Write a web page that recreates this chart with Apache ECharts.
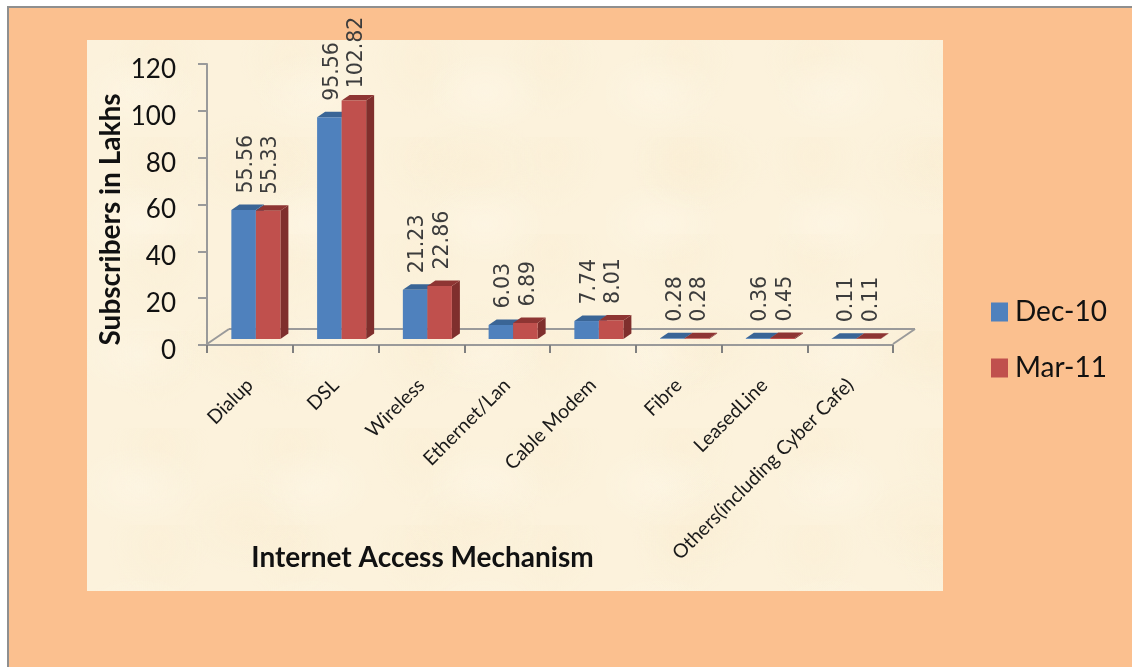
<!DOCTYPE html>
<html>
<head>
<meta charset="utf-8">
<script src="https://cdn.jsdelivr.net/npm/echarts@6/dist/echarts.min.js"></script>
<style>
html,body{margin:0;padding:0;width:1132px;height:667px;overflow:hidden;background:#fff}
#frame{position:absolute;left:7px;top:6px;width:1125px;height:661px;box-sizing:border-box;background:#FBC08F;border-top:2px solid #8f8f8f;border-left:2px solid #8f8f8f}
#panel{position:absolute;left:87px;top:40px;width:856px;height:551px;background-color:#FCF2DC;
  background-image:
    radial-gradient(ellipse 60px 40px at 30% 40%, rgba(255,250,238,.35), transparent),
    radial-gradient(ellipse 70px 50px at 70% 70%, rgba(248,234,205,.3), transparent),
    radial-gradient(ellipse 50px 60px at 55% 20%, rgba(248,234,205,.25), transparent);
  background-size:173px 131px, 227px 179px, 131px 97px}
#chart{position:absolute;left:0;top:0;width:1132px;height:667px}
</style>
</head>
<body>
<div id="frame"></div>
<div id="panel"></div>
<div id="chart"></div>
<script>
const categories = ['Dialup','DSL','Wireless','Ethernet/Lan','Cable Modem','Fibre','LeasedLine','Others(including Cyber Cafe)'];
const dec10 = [55.56,95.56,21.23,6.03,7.74,0.28,0.36,0.11];
const mar11 = [55.33,102.82,22.86,6.89,8.01,0.28,0.45,0.11];
const yTicks = [0,20,40,60,80,100,120];

const AXIS_GRAY = '#9a9a9a';
const DEPTH_X = 8, DEPTH_Y = 5.5;
const LABEL_FONT = 20.5;

function barRenderer(sideSign, front, dark, topColor){
  return function(params, api){
    const idx = api.value(0), val = api.value(1);
    const band = api.size([1,0])[0];
    const w = band * 0.286;
    const c = api.coord([idx, val]);
    const b = api.coord([idx, 0]);
    const mid = c[0] + band * 0.07;
    const x0 = sideSign < 0 ? mid - w : mid;
    const x1 = x0 + w;
    const yt = c[1], yb = b[1];
    const text = String(val);
    const len = text.length * 0.58 * LABEL_FONT;
    const labelBottom = Math.max(yt - 16.5, 17 + len);
    return {type:'group', children:[
      {type:'polygon', shape:{points:[[x1,yt],[x1+DEPTH_X,yt-DEPTH_Y],[x1+DEPTH_X,yb-DEPTH_Y],[x1,yb]]}, style:{fill:dark}},
      {type:'polygon', shape:{points:[[x0,yt],[x1,yt],[x1+DEPTH_X,yt-DEPTH_Y],[x0+DEPTH_X,yt-DEPTH_Y]]}, style:{fill:topColor}},
      {type:'rect', shape:{x:x0,y:yt,width:w,height:yb-yt}, style:{fill:front}},
      {type:'text', x:(x0+x1)/2 + 3, y:labelBottom, rotation:Math.PI/2,
        style:{text:text, fill:'#3c3c3c', font:LABEL_FONT+'px "DejaVu Sans"', align:'left', verticalAlign:'middle'}, z2:20}
    ]};
  };
}

function floorRenderer(params, api){
  const r = params.coordSys;
  const f = r.y + r.height - 1, d = 15, s = 22;
  const line = (a,b,c,e)=>({type:'line', shape:{x1:a,y1:b,x2:c,y2:e}, style:{stroke:AXIS_GRAY, lineWidth:2, fill:null}});
  return {type:'group', children:[
    line(r.x, f, r.x+s, f-d),
    line(r.x+s, f-d, r.x+r.width+s, f-d),
    line(r.x+r.width, f, r.x+r.width+s, f-d)
  ]};
}

const chart = echarts.init(document.getElementById('chart'), null, {renderer:'canvas'});
const seriesData = arr => arr.map((v,i)=>[i,v]);
chart.setOption({
  backgroundColor:'transparent',
  animation:false,
  textStyle:{fontFamily:'Lato'},
  legend:{
    orient:'vertical', left:986, top:293, itemWidth:17, itemHeight:19, itemGap:28,
    icon:'rect', data:['Dec-10','Mar-11'],
    textStyle:{fontFamily:'Lato', fontSize:28, color:'#111', padding:[0,0,0,2]}
  },
  grid:[
    {left:207, top:64, width:686, height:281},
    {left:207, top:60.6, width:686, height:278.4}
  ],
  xAxis:[
    {type:'category', gridIndex:0, data:categories, boundaryGap:true,
      axisLine:{show:true, lineStyle:{color:AXIS_GRAY, width:2}},
      axisTick:{show:true, length:8, lineStyle:{color:'#808080', width:2}},
      axisLabel:{rotate:45, interval:0, margin:37, fontFamily:'Lato', fontSize:19.5, color:'#1a1a1a'},
      name:'Internet Access Mechanism', nameLocation:'middle', nameGap:199, nameMoveOverlap:false,
      nameTextStyle:{fontFamily:'Lato', fontWeight:'bold', fontSize:28, color:'#111', padding:[0,255,0,0]}
    },
    {type:'category', gridIndex:1, data:categories, show:false}
  ],
  yAxis:[
    {type:'value', gridIndex:0, min:0, max:120, interval:20,
      axisLine:{show:true, lineStyle:{color:AXIS_GRAY, width:2}},
      axisTick:{show:true, length:9, lineStyle:{color:AXIS_GRAY, width:2}},
      splitLine:{show:false},
      axisLabel:{margin:31, fontFamily:'Lato', fontSize:26, color:'#111', verticalAlign:'top', lineHeight:11,
        customValues:yTicks},
      name:'Subscribers in Lakhs', nameLocation:'middle', nameGap:82, nameRotate:90, nameMoveOverlap:false,
      nameTextStyle:{fontFamily:'Lato', fontWeight:'bold', fontSize:28, color:'#111', padding:[0,30,0,0]}
    },
    {type:'value', gridIndex:1, min:0, max:120, interval:20, show:false, splitLine:{show:false}}
  ],
  series:[
    {type:'custom', name:'floor', xAxisIndex:0, yAxisIndex:0, data:[[0,0]], renderItem:floorRenderer, silent:true, z:1},
    {type:'custom', name:'Dec-10', xAxisIndex:1, yAxisIndex:1, data:seriesData(dec10),
      encode:{x:0,y:1}, itemStyle:{color:'#4F81BD'}, z:3,
      renderItem:barRenderer(-1,'#4F81BD','#375C8A','#3A6596')},
    {type:'custom', name:'Mar-11', xAxisIndex:1, yAxisIndex:1, data:seriesData(mar11),
      encode:{x:0,y:1}, itemStyle:{color:'#C0504D'}, z:4,
      renderItem:barRenderer(1,'#C0504D','#7F2F2D','#8E3533')}
  ]
});
</script>
</body>
</html>
